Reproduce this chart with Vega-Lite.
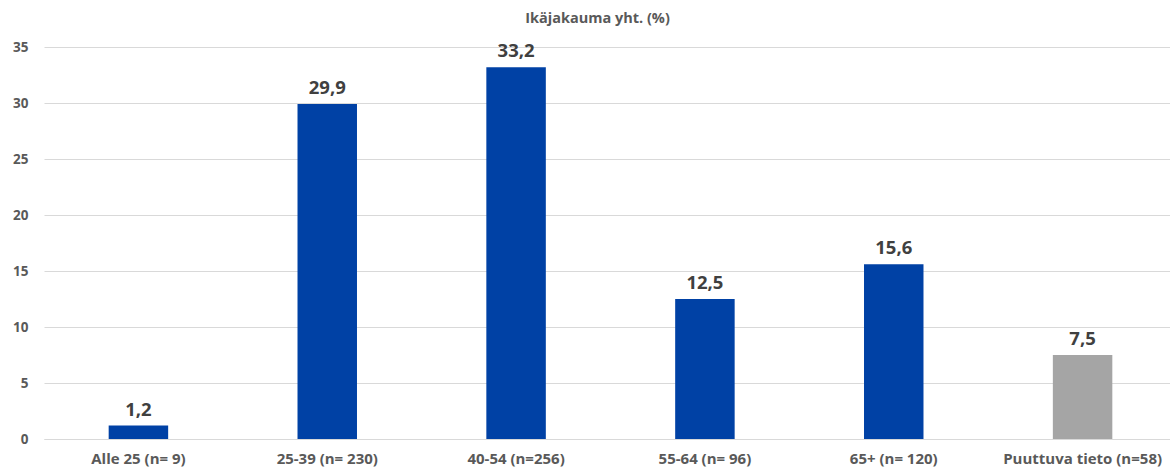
{
  "$schema": "https://vega.github.io/schema/vega-lite/v6.json",
  "width": 1133,
  "height": 392,
  "autosize": {"type": "none"},
  "padding": {"left": 44, "top": 47, "right": 0, "bottom": 35},
  "background": "white",
  "config": {
    "view": {"stroke": null},
    "font": "Open Sans",
    "locale": {"number": {"decimal": ",", "thousands": " ", "grouping": [3], "currency": ["", " €"]}}
  },
  "title": {
    "text": "Ikäjakauma yht. (%)",
    "frame": "group",
    "anchor": "middle",
    "offset": 14,
    "dx": -13,
    "fontSize": 14.5,
    "fontWeight": "bold",
    "color": "#595959",
    "font": "Open Sans"
  },
  "data": {
    "values": [
      {"group": "Alle 25 (n= 9)", "value": 1.2, "type": "known"},
      {"group": "25-39 (n= 230)", "value": 29.9, "type": "known"},
      {"group": "40-54 (n=256)", "value": 33.2, "type": "known"},
      {"group": "55-64 (n= 96)", "value": 12.5, "type": "known"},
      {"group": "65+ (n= 120)", "value": 15.6, "type": "known"},
      {"group": "Puuttuva tieto (n=58)", "value": 7.5, "type": "missing"}
    ]
  },
  "encoding": {
    "x": {
      "field": "group",
      "type": "nominal",
      "sort": null,
      "scale": {"paddingInner": 0.685, "paddingOuter": 0.3425},
      "axis": {
        "title": null,
        "labelAngle": 0,
        "labelFontSize": 15,
        "labelFontWeight": "bold",
        "labelColor": "#595959",
        "labelPadding": 12,
        "ticks": false,
        "domainColor": "#d9d9d9",
        "labelFont": "Open Sans"
      }
    },
    "y": {
      "field": "value",
      "type": "quantitative",
      "scale": {"domain": [0, 35], "nice": false},
      "axis": {
        "title": null,
        "values": [0, 5, 10, 15, 20, 25, 30, 35],
        "labelFontSize": 13.5,
        "labelFontWeight": "bold",
        "labelColor": "#595959",
        "labelPadding": 16,
        "ticks": false,
        "domain": false,
        "gridColor": "#d9d9d9",
        "labelFont": "Open Sans"
      }
    }
  },
  "layer": [
    {
      "mark": {"type": "bar"},
      "encoding": {
        "color": {
          "field": "type",
          "type": "nominal",
          "scale": {"domain": ["known", "missing"], "range": ["#0041A5", "#A5A5A5"]},
          "legend": null
        }
      }
    },
    {
      "mark": {"type": "text", "baseline": "bottom", "dy": -6, "fontSize": 18.5, "fontWeight": "bold", "color": "#404040", "font": "Open Sans"},
      "encoding": {
        "text": {"field": "value", "type": "quantitative", "format": ".1f"}
      }
    }
  ]
}
